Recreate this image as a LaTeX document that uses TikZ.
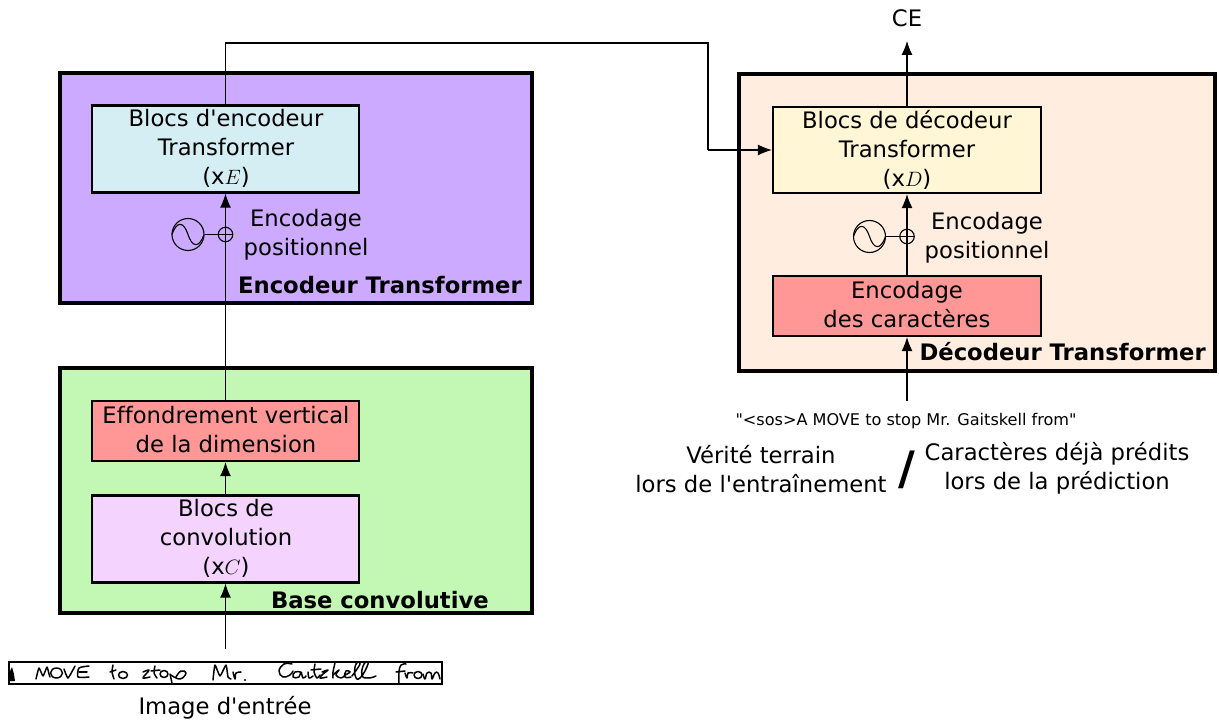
\documentclass[tikz,border=0pt]{standalone}
\usepackage{fontspec}
\newfontfamily\dvfont[Ligatures=NoCommon]{DejaVu Sans}
\usetikzlibrary{arrows.meta}
\tikzset{
 x=1pt,y=-1pt,
 panel/.style={draw=black,line width=4.4pt,line join=miter},
 block/.style={draw=black,line width=2.2pt,minimum width=267pt,inner sep=0pt},
 txt/.style={font=\dvfont\fontsize{22.7}{29}\selectfont,align=center,inner sep=0pt,text=black},
 boldtxt/.style={font=\dvfont\fontsize{22.7}{29}\selectfont\bfseries,inner sep=0pt},
 conn/.style={draw=black,line width=1.1pt},
 arr/.style={conn,-{Latex[length=14pt,width=11pt]}},
 ink/.style={draw=black,line width=1.5pt,line cap=round,line join=round},
}
\definecolor{cpurple}{HTML}{CCAAFF}
\definecolor{cgreen}{HTML}{C3F8B4}
\definecolor{corange}{HTML}{FFEEDF}
\definecolor{cblue}{HTML}{D5EEF3}
\definecolor{cred}{HTML}{FF9797}
\definecolor{cpink}{HTML}{F4D3FF}
\definecolor{cyellow}{HTML}{FFF6D5}
\begin{document}
\begin{tikzpicture}
\useasboundingbox (0,0) rectangle (1219,722);
% panels
\path[panel,fill=cpurple] (60,73) rectangle (532,303);
\path[panel,fill=cgreen] (60,368) rectangle (532,613);
\path[panel,fill=corange] (739,74) rectangle (1215,371);
% blocks
\node[block,fill=cblue,minimum height=87pt] (enc) at (225.5,149) {};
\node[block,fill=cred,minimum height=60pt] (eff) at (225.5,431) {};
\node[block,fill=cpink,minimum height=87pt] (conv) at (225.5,539) {};
\node[block,fill=cyellow,minimum height=86pt,minimum width=268pt] (dec) at (907,150) {};
\node[block,fill=cred,minimum height=60pt,minimum width=268pt] (car) at (907,306) {};
% block texts
\node[txt] (t1) at (226,148) {Blocs d'encodeur\\Transformer\\(x$E$)};
\node[txt] (t2) at (226,430) {Effondrement vertical\\de la dimension};
\node[txt] (t3) at (226,538) {Blocs de\\convolution\\(x$C$)};
\node[txt] (t4) at (907,149.5) {Blocs de décodeur\\Transformer\\(x$D$)};
\node[txt] (t5) at (907,305) {Encodage\\des caractères};
% labels
\node[txt] (p1) at (306,235) {Encodage\\positionnel};
\node[txt] (p2) at (987,237.5) {Encodage\\positionnel};
\node[boldtxt,anchor=east] (b1) at (522,285) {Encodeur Transformer};
\node[boldtxt,anchor=east] (b2) at (489,600) {Base convolutive};
\node[boldtxt,anchor=east] (b3) at (1206,352) {Décodeur Transformer};
\node[txt] (ce) at (907,18) {CE};
\node[inner sep=0pt,font=\dvfont\fontsize{16.1}{18}\selectfont] (sos) at (906,421) {"<sos>A MOVE to stop Mr. Gaitskell from"};
\node[txt] (v) at (761,469) {Vérité terrain\\lors de l'entraînement};
\node[txt] (c) at (1057,468) {Caractères déjà prédits\\lors de la prédiction};
\node[inner sep=0pt,font=\dvfont\fontsize{46}{50}\selectfont\bfseries] (sl) at (906.5,470) {/};
\node[txt] (im) at (225,708) {Image d'entrée};
% coordinates
\coordinate (imtop) at (225.5,649);
\coordinate (sosb) at (907,401);
\coordinate (ceb) at (907,41);
\coordinate (up) at (225.5,43);
\coordinate (turn) at (708,43);
\coordinate (turn2) at (708,150);
\coordinate (oin1) at (225.5,260);
% connectors
\draw[arr] (imtop) -- (conv.south);
\draw[arr] (conv.north) -- (eff.south);
\draw[conn] (eff.north) -- (oin1);
\draw[arr] (oin1) -- (enc.south);
\draw[conn] (enc.north) -- (up) -- (turn) -- (turn2);
\draw[arr] (turn2) -- (dec.west);
\draw[arr] (dec.north) -- (ceb);
\draw[arr] (car.north) -- (dec.south);
\draw[arr] (sosb) -- (car.south);
% positional encodings
\node[circle,draw=black,line width=1.1pt,minimum size=32pt,inner sep=0pt] (s1) at (188,234.5) {};
\node[circle,draw=black,line width=1.1pt,minimum size=14.5pt,inner sep=0pt] (o1) at (225.5,234.5) {};
\draw[conn] (s1) -- (o1);
\draw[conn] (o1.west) -- (o1.east);
\draw[conn] (o1.north) -- (o1.south);
\draw[conn] (172,234.5) .. controls (177,220) and (184,222) .. (188,234.5) .. controls (192,247) and (199,249) .. (204,234.5);
\node[circle,draw=black,line width=1.1pt,minimum size=32pt,inner sep=0pt] (s2) at (869.5,236.5) {};
\node[circle,draw=black,line width=1.1pt,minimum size=14.5pt,inner sep=0pt] (o2) at (907,236.5) {};
\draw[conn] (s2) -- (o2);
\draw[conn] (o2.west) -- (o2.east);
\draw[conn] (o2.north) -- (o2.south);
\draw[conn] (853.5,236.5) .. controls (858.5,222) and (865.5,224) .. (869.5,236.5) .. controls (873.5,249) and (880.5,251) .. (885.5,236.5);
% input image
\node[draw=black,line width=1.5pt,fill=white,minimum width=433pt,minimum height=22pt,inner sep=0pt] (img) at (225.5,673) {};
\begin{scope}
\clip (9,662) rectangle (442,684);
% A (cut off)
\fill[black] (9,681) -- (10,671) -- (12,667) -- (14,674) -- (15,681) -- cycle;
% MOVE
\draw[ink] plot[smooth,tension=.3] coordinates {(36,679) (39,668) (43,676) (47,667) (49,674) (50,677)};
\draw[ink] (56.5,673) ellipse [x radius=6,y radius=5];
\draw[ink] plot[smooth,tension=.3] coordinates {(64,669) (68,678) (75,666)};
\draw[ink] plot[smooth,tension=.4] coordinates {(89,666) (79,668) (78,677) (89,677)};
\draw[ink] (79,672) -- (87,672);
% to
\draw[ink] plot[smooth,tension=.4] coordinates {(113,665) (112,672) (114,679)};
\draw[ink] (110,672) -- (116,670);
\draw[ink] (123,675) ellipse [x radius=4.5,y radius=3.5];
% stop
\draw[ink] plot[smooth,tension=.7] coordinates {(143,672) (149,670) (146,674) (143,678) (150,677)};
\draw[ink] plot[smooth,tension=.5] coordinates {(155,666) (154,673) (157,678)};
\draw[ink] (151,671) -- (160,670);
\draw[ink] (164,674) ellipse [x radius=4,y radius=3.5];
\draw[ink] plot[smooth,tension=.6] coordinates {(170,674) (172,683)};
\draw[ink] plot[smooth,tension=.8] coordinates {(171,675) (180,679) (186,673) (181,671) (176,677)};
% Mr.
\draw[ink] plot[smooth,tension=.3] coordinates {(213,680) (215,665) (220,676) (226,665) (228,677) (231,679)};
\draw[ink] plot[smooth,tension=.6] coordinates {(233,672) (235,679) (236,673) (241,672)};
\fill[black] (245,680) circle (1.2pt);
% Gaitskell
\draw[ink] plot[smooth,tension=.7] coordinates {(292,664) (284,664) (279,671) (283,677) (290,675) (293,671)};
\draw[ink] plot[smooth,tension=.8] coordinates {(300,672) (295,672) (293,677) (299,677) (301,672) (303,678) (306,676)};
\draw[ink] plot[smooth,tension=.6] coordinates {(308,672) (309,678) (313,676)};
\draw[ink] plot[smooth,tension=.5] coordinates {(315,664) (314,672) (317,678) (320,675)};
\draw[ink] (311,670) -- (321,669);
\draw[ink] plot[smooth,tension=.7] coordinates {(322,672) (328,670) (323,674) (320,678) (327,677)};
\draw[ink] plot[smooth,tension=.5] coordinates {(335,663) (333,672) (333,678)};
\draw[ink] plot[smooth,tension=.7] coordinates {(333,675) (339,670) (336,675) (341,678) (344,676)};
\draw[ink] plot[smooth,tension=.8] coordinates {(345,675) (350,672) (346,671) (345,677) (351,677)};
\draw[ink] plot[smooth,tension=.9] coordinates {(352,676) (360,664) (356,664) (355,675) (360,678) (368,664) (364,664) (362,675) (368,678) (376,676)};
% from
\draw[ink] plot[smooth,tension=.7] coordinates {(406,664) (401,665) (399,672) (399,684)};
\draw[ink] (396,672) -- (405,671);
\draw[ink] plot[smooth,tension=.7] coordinates {(405,673) (407,678) (408,673) (413,673)};
\draw[ink] (418,675) ellipse [x radius=4,y radius=3.5];
\draw[ink] plot[smooth,tension=.7] coordinates {(423,674) (425,679) (427,673) (431,673) (432,679) (435,673) (438,673) (440,679)};
\end{scope}
\end{tikzpicture}
\end{document}
